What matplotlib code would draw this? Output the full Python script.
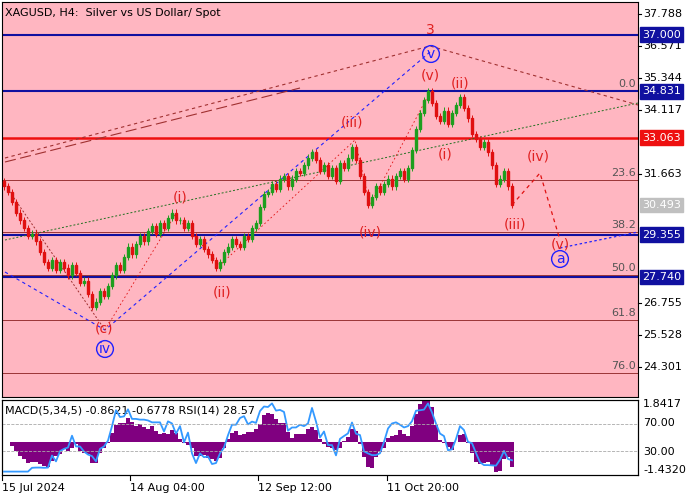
import numpy as np
import matplotlib
matplotlib.use("Agg")
import matplotlib.pyplot as plt
from matplotlib.patches import Rectangle

closes = [31.2,31.0,30.6,30.2,29.9,29.6,29.3,29.4,29.1,28.7,28.3,28.1,28.4,28.0,28.3,28.1,27.8,28.2,27.9,27.5,
          27.6,27.1,26.6,26.8,27.2,27.0,27.4,27.8,28.2,28.0,28.5,28.9,28.6,29.0,29.3,29.1,29.5,29.7,29.4,29.8,
          29.6,30.0,30.2,29.9,29.9,29.6,29.8,29.3,29.0,29.2,28.8,28.6,28.4,28.1,28.3,28.7,28.9,29.2,29.0,28.9,
          29.3,29.2,29.6,29.8,30.4,30.9,31.0,31.3,31.1,31.5,31.6,31.2,31.5,31.8,31.7,32.0,32.3,32.5,32.2,31.8,
          32.0,31.6,31.9,31.4,32.1,31.9,32.3,32.7,32.2,31.6,31.0,30.5,30.8,31.2,31.0,31.3,31.5,31.2,31.6,31.8,
          31.5,31.9,32.6,33.4,34.0,34.5,34.85,34.4,33.9,33.7,34.1,33.6,34.0,34.3,34.6,34.2,33.8,33.2,33.0,32.7,
          32.9,32.5,32.0,31.3,31.5,31.8,31.2,30.49]
first_open = 31.4
blue_levels = [37.0, 34.831, 29.355, 27.740]
red_level = 33.063
fib_labels = ["0.0", "23.6", "38.2", "50.0", "61.8", "76.0"]
fib_prices = [34.831, 31.45, 29.46, 27.83, 26.10, 24.07]
axis_ticks = [37.788, 36.571, 35.344, 34.117, 31.663, 26.755, 25.528, 24.301]
date_labels = ["15 Jul 2024", "14 Aug 04:00", "12 Sep 12:00", "11 Oct 20:00"]
date_px = [2, 130, 258, 387]

W, H = 700, 500
fig = plt.figure(figsize=(7, 5), dpi=100, facecolor="white")
PINK = "#ffb6c1"

def px2i(x): return (x - 4) / 4.0
def py2p(y): return 37.788 - (y - 14) / 26.17

ax = fig.add_axes([2/W, (500-397)/H, 636/W, 395/H], facecolor=PINK)
x0, x1 = px2i(2), px2i(638)
ax.set_xlim(x0, x1)
ax.set_ylim(py2p(397), py2p(2))
ax.set_xticks([]); ax.set_yticks([])
for s in ax.spines.values(): s.set_color("black"); s.set_linewidth(0.8)

n = len(closes)
opens = [first_open] + closes[:-1]
for i, (o, c) in enumerate(zip(opens, closes)):
    col = "#1e9e1e" if c >= o else "#e01010"
    hi = max(o, c) + 0.12; lo = min(o, c) - 0.12
    ax.vlines(i, lo, hi, color=col, lw=0.7, zorder=3)
    ax.add_patch(Rectangle((i-0.25, min(o, c)), 0.5, max(abs(c-o), 0.03), color=col, zorder=3))

for p in blue_levels:
    ax.axhline(p, color="#1010a0", lw=1.5, zorder=2)
ax.axhline(red_level, color="#ee1010", lw=1.8, zorder=2)
for lab, p in zip(fib_labels, fib_prices):
    ax.axhline(p, color="#8b2020", lw=0.6, zorder=1)
    ax.text(px2i(636), p + 0.08, lab, ha="right", va="bottom", fontsize=8, color="#555555")

def L(pts, **kw):
    ax.plot([px2i(a) for a, b in pts], [py2p(b) for a, b in pts], **kw)
L([(5,272),(105,330),(430,52)], color="#2020ff", ls=(0,(3,3)), lw=0.8)
L([(5,158),(430,46),(638,105)], color="#a03030", ls=(0,(3,3)), lw=0.8)
L([(5,162),(300,88)], color="#a03030", ls=(0,(10,4)), lw=0.8)
L([(5,240),(638,103)], color="#207020", ls=(0,(2,2)), lw=0.7)
L([(5,185),(105,330)], color="#a03030", ls=(0,(2,2)), lw=0.7)
L([(512,205),(540,173),(560,240)], color="#e01010", ls=(0,(3,3)), lw=0.9)
L([(560,248),(638,232)], color="#2020ff", ls=(0,(2,2)), lw=0.9)
L([(105,330),(175,215),(220,265),(355,140),(370,205),(430,92)], color="#e01010", ls=(0,(2,3)), lw=0.6)

red_lab = [("(i)",180,198),("(ii)",222,293),("(iii)",352,123),("(iv)",370,232),("(v)",430,76),
           ("(i)",445,155),("(ii)",460,84),("(iii)",515,224),("(iv)",538,157),("(v)",560,244),("(c)",104,328),("3",430,30)]
for t, x, y in red_lab:
    ax.text(px2i(x), py2p(y), t, color="#e02020", fontsize=10, ha="center", va="center", zorder=5)
for t, x, y in [("v",431,54),("iv",105,349),("a",560,259)]:
    ax.text(px2i(x), py2p(y), t, color="#2020ff", fontsize=10, ha="center", va="center", zorder=5,
            bbox=dict(boxstyle="circle,pad=0.1", fc="none", ec="#2020ff", lw=1))
ax.text(px2i(5), py2p(13), "XAGUSD, H4:  Silver vs US Dollar/ Spot", fontsize=8, va="center")

for p in axis_ticks:
    yf = (500 - (14 + (37.788 - p) * 26.17)) / H
    fig.text(643/W, yf, f"{p:.3f}", fontsize=8, va="center")
    fig.add_artist(plt.Line2D([638/W, 641/W], [yf, yf], color="black", lw=0.8))
boxes = [(37.0, "#1010a0"), (34.831, "#1010a0"), (33.063, "#ee1010"),
         (30.493, "#c0c0c0"), (29.355, "#1010a0"), (27.740, "#1010a0")]
for p, fc in boxes:
    yf = (500 - (14 + (37.788 - p) * 26.17)) / H
    fig.text(642/W, yf, f"{p:.3f}", fontsize=8, va="center", color="white",
             bbox=dict(boxstyle="square,pad=0.2", fc=fc, ec=fc))

ax2 = fig.add_axes([2/W, (500-475)/H, 636/W, 75/H], facecolor="white")
ax2.set_xlim(x0, x1); ax2.set_xticks([]); ax2.set_yticks([])
c = np.array(closes)
def sma(a, k): return np.array([a[max(0, i-k+1):i+1].mean() for i in range(len(a))])
macd = sma(c, 2) - sma(c, 9)
ax2.set_ylim(-1.432, 1.8417)
ax2.bar(np.arange(n), macd * 1.1, width=1.0, color="#800080", lw=0)
d = np.diff(c, prepend=c[0])
up = sma(np.clip(d, 0, None), 6); dn = sma(np.clip(-d, 0, None), 6)
rsi = 100 - 100 / (1 + up / np.maximum(dn, 1e-6))
ax3 = ax2.twinx(); ax3.set_ylim(-5, 105); ax3.set_yticks([])
ax3.plot(np.arange(n), rsi, color="#3399ff", lw=1.3)
for v in (70, 30): ax3.axhline(v, color="#aaaaaa", ls="--", lw=0.6)
ax2.text(px2i(5), 1.6, "MACD(5,34,5) -0.8621 -0.6778 RSI(14) 28.57", fontsize=8, va="top")
for lab, yy in [("1.8417", 404), ("70.00", 423), ("30.00", 452), ("-1.4320", 470)]:
    fig.text(643/W, (500-yy)/H, lab, fontsize=8, va="center")
for lab, xp in zip(date_labels, date_px):
    fig.text(xp/W, (500-488)/H, lab, fontsize=8, va="center")
    fig.add_artist(plt.Line2D([xp/W, xp/W], [(500-476)/H, (500-480)/H], color="black", lw=0.8))
fig.savefig("out.png", dpi=100)
